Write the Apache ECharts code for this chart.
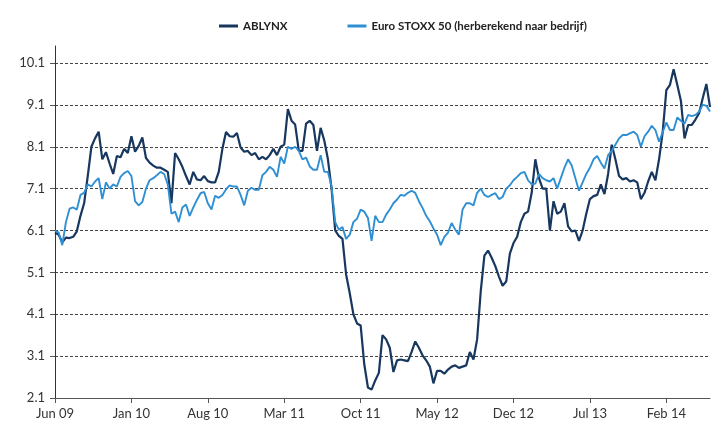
<!DOCTYPE html>
<html>
<head>
<meta charset="utf-8">
<script src="https://cdn.jsdelivr.net/npm/echarts@6/dist/echarts.min.js"></script>
<style>
html,body{margin:0;padding:0;background:#fff;}
#c{width:720px;height:426px;}
</style>
</head>
<body>
<div id="c"></div>
<script>
const seriesNames = ['ABLYNX', 'Euro STOXX 50 (herberekend naar bedrijf)'];
const tickLabels = ['Jun 09','Jan 10','Aug 10','Mar 11','Oct 11','May 12','Dec 12','Jul 13','Feb 14'];
const yTicks = [2.1, 3.1, 4.1, 5.1, 6.1, 7.1, 8.1, 9.1, 10.1];

// ~10-day sampling from June 2009 to June 2014
const categories = [];
for (let i = 0; i <= 180; i++) {
  const m = Math.floor(i / 3), d = [1, 11, 21][i % 3];
  const y = 2009 + Math.floor((5 + m) / 12), mo = (5 + m) % 12 + 1;
  categories.push(y + '-' + String(mo).padStart(2, '0') + '-' + String(d).padStart(2, '0'));
}

const ablynx = [6.05,6.0,5.82,5.93,5.92,5.95,6.08,6.45,6.75,7.4,
8.1,8.3,8.46,7.8,7.97,7.7,7.45,7.88,7.85,8.05,
7.95,8.35,7.98,8.12,8.32,7.83,7.72,7.65,7.6,7.6,
7.55,7.5,6.75,7.95,7.8,7.62,7.4,7.2,7.5,7.32,
7.3,7.4,7.28,7.25,7.25,7.5,8.05,8.45,8.35,8.34,
8.43,8.08,7.98,8.0,7.9,7.95,7.8,7.86,7.8,7.9,
8.05,7.9,8.1,8.15,9.0,8.72,8.63,8.0,8.0,8.65,
8.72,8.62,8.0,8.55,8.25,7.8,7.1,6.1,5.97,5.9,
5.05,4.6,4.1,3.88,3.83,2.9,2.35,2.3,2.52,2.7,
3.6,3.5,3.3,2.72,3.0,3.02,3.0,2.98,3.2,3.45,
3.3,3.12,3.0,2.85,2.45,2.75,2.75,2.68,2.78,2.85,
2.88,2.82,2.85,2.88,3.2,3.02,3.5,4.65,5.5,5.62,
5.45,5.25,5.0,4.78,4.88,5.55,5.8,5.95,6.3,6.5,
6.55,7.0,7.8,7.35,7.1,7.1,6.1,6.8,6.5,6.55,
6.75,6.2,6.08,6.1,5.85,6.1,6.5,6.85,6.92,6.95,
7.2,6.97,7.45,8.15,7.8,7.4,7.32,7.35,7.27,7.3,
7.25,6.85,7.0,7.27,7.5,7.3,7.8,8.45,9.45,9.58,
9.95,9.58,9.2,8.3,8.62,8.62,8.75,8.9,9.26,9.6,
9.05];

const eurostoxx = [6.1,6.05,5.75,6.3,6.62,6.65,6.6,6.95,7.0,7.2,
7.15,7.27,7.35,6.85,7.25,7.1,7.2,7.15,7.38,7.47,
7.52,7.4,6.8,6.7,6.78,7.1,7.3,7.35,7.42,7.5,
7.45,7.2,6.5,6.55,6.3,6.65,6.72,6.45,6.65,6.83,
6.99,7.02,6.75,6.6,6.93,6.88,6.95,7.08,7.18,7.15,
7.15,6.95,6.7,7.05,7.12,7.07,7.07,7.42,7.5,7.62,
7.55,7.38,7.86,7.7,8.1,8.05,8.1,8.0,7.8,7.84,
7.63,7.55,7.55,7.9,7.5,7.5,7.15,6.3,6.12,6.18,
5.9,6.0,6.3,6.38,6.6,6.55,6.4,5.85,6.45,6.3,
6.3,6.48,6.6,6.75,6.84,6.95,6.93,7.0,7.05,7.0,
6.8,6.64,6.45,6.32,6.15,6.0,5.75,5.95,6.05,6.28,
6.12,6.0,6.6,6.75,6.75,6.7,7.0,7.1,6.95,6.9,
6.95,6.99,6.85,6.9,7.1,7.18,7.3,7.38,7.47,7.5,
7.3,7.2,7.22,7.45,7.35,7.3,7.27,7.35,7.1,7.35,
7.6,7.8,7.65,7.35,7.05,7.25,7.45,7.6,7.8,7.88,
7.72,7.58,7.9,8.0,8.15,8.3,8.38,8.38,8.42,8.46,
8.38,8.1,8.35,8.46,8.6,8.5,8.22,8.45,8.68,8.5,
8.5,8.8,8.72,8.65,8.86,8.83,8.86,8.94,9.1,9.08,
8.94];

const FONT = 'Lato, "Open Sans", sans-serif';
const chart = echarts.init(document.getElementById('c'), null, {renderer: 'canvas'});
chart.setOption({
  animation: false,
  backgroundColor: '#ffffff',
  textStyle: {fontFamily: FONT},
  legend: {
    data: seriesNames,
    left: 214, top: 15,
    icon: 'rect', itemWidth: 19, itemHeight: 3, itemGap: 60,
    textStyle: {fontFamily: FONT, fontWeight: 'bold', fontSize: 11.5, color: '#222'}
  },
  grid: [
    {left: 55, right: 10, top: 63, bottom: 28, containLabel: false},
    {left: 55, right: 10, top: 46, bottom: 28, containLabel: false}
  ],
  xAxis: [{
    type: 'category', gridIndex: 0, data: categories, boundaryGap: false,
    axisLine: {show: true, lineStyle: {color: '#555', width: 1}},
    axisTick: {show: true, interval: 20, length: 5, inside: false, lineStyle: {color: '#555'}},
    axisLabel: {
      interval: 20, margin: 9, color: '#333', fontSize: 13, fontFamily: FONT,
      formatter: function (v, idx) { return idx % 21 === 0 ? (tickLabels[idx / 21] || '') : ''; }
    },
    splitLine: {show: false}
  }, {
    type: 'category', gridIndex: 1, data: categories, boundaryGap: false, show: false
  }],
  yAxis: [{
    type: 'value', gridIndex: 0, min: yTicks[0], max: yTicks[yTicks.length - 1], interval: 1,
    axisLine: {show: true, lineStyle: {color: '#333', width: 1}},
    axisTick: {show: true, length: 5, lineStyle: {color: '#555'}},
    axisLabel: {margin: 10, color: '#333', fontSize: 13, fontFamily: FONT,
      formatter: function (v) { return (Math.round(v * 10) / 10).toFixed(1); }},
    splitLine: {show: true, lineStyle: {color: '#444', width: 1, type: [3, 2]}}
  }, {
    type: 'value', gridIndex: 1, min: 0, max: 1,
    axisLine: {show: true, lineStyle: {color: '#333', width: 1}},
    axisTick: {show: false}, axisLabel: {show: false}, splitLine: {show: false}
  }],
  series: [{
    name: seriesNames[0], type: 'line', data: ablynx, xAxisIndex: 0, yAxisIndex: 0,
    symbol: 'none', smooth: false,
    lineStyle: {color: '#17375e', width: 2.2},
    itemStyle: {color: '#17375e'}
  }, {
    name: seriesNames[1], type: 'line', data: eurostoxx, xAxisIndex: 0, yAxisIndex: 0,
    symbol: 'none', smooth: false,
    lineStyle: {color: '#2f8fd3', width: 1.9},
    itemStyle: {color: '#2f8fd3'}
  }]
});
</script>
</body>
</html>
